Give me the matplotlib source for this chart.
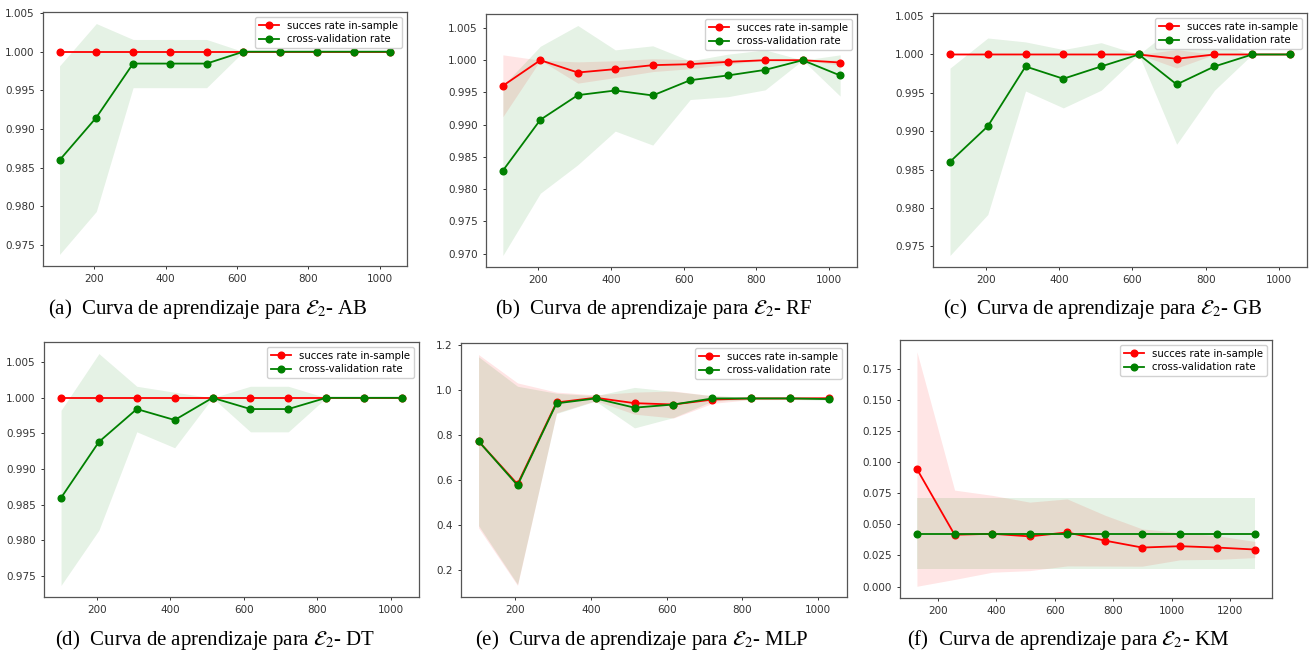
import numpy as np
import matplotlib
matplotlib.use("Agg")
import matplotlib.pyplot as plt

plt.rcParams["mathtext.fontset"] = "stix"

# Training-set sizes used for the learning curves
sizes_e2 = [103, 206, 309, 412, 515, 618, 721, 824, 927, 1030]
sizes_km = [128, 257, 385, 514, 642, 771, 899, 1028, 1156, 1285]

# (a) AdaBoost
ab_train = [1.0, 1.0, 1.0, 1.0, 1.0, 1.0, 1.0, 1.0, 1.0, 1.0]
ab_train_std = [0, 0, 0, 0, 0, 0, 0, 0, 0, 0]
ab_cv = [0.98596, 0.99148, 0.99846, 0.99846, 0.99846, 1.0, 1.0, 1.0, 1.0, 1.0]
ab_cv_std = [0.0122, 0.01216, 0.00312, 0.00312, 0.00312, 0, 0, 0, 0, 0]

# (b) Random Forest
rf_train = [0.99603, 1.0, 0.99809, 0.99861, 0.99923, 0.99938, 0.99974, 1.0, 1.0, 0.99964]
rf_train_std = [0.0048, 0.0, 0.00165, 0.0013, 0.001, 0.0007, 0.0004, 0.0, 0.0, 0.0004]
rf_cv = [0.98287, 0.99076, 0.99458, 0.99530, 0.99453, 0.99690, 0.99763, 0.99850, 1.0, 0.99763]
rf_cv_std = [0.01316, 0.0114, 0.0108, 0.0063, 0.0077, 0.003, 0.0033, 0.0031, 0.0, 0.0032]

# (c) Gradient Boosting
gb_train = [1.0, 1.0, 1.0, 1.0, 1.0, 1.0, 0.99944, 1.0, 1.0, 1.0]
gb_train_std = [0, 0, 0, 0, 0, 0, 0.0012, 0, 0, 0]
gb_cv = [0.98602, 0.99065, 0.99844, 0.99684, 0.99844, 1.0, 0.99610, 0.99844, 1.0, 1.0]
gb_cv_std = [0.0122, 0.0115, 0.0032, 0.0038, 0.0031, 0, 0.0078, 0.0031, 0, 0]

# (d) Decision Tree
dt_train = [1.0, 1.0, 1.0, 1.0, 1.0, 1.0, 1.0, 1.0, 1.0, 1.0]
dt_train_std = [0, 0, 0, 0, 0, 0, 0, 0, 0, 0]
dt_cv = [0.98595, 0.99381, 0.99842, 0.99688, 1.0, 0.99842, 0.99842, 1.0, 1.0, 1.0]
dt_cv_std = [0.0123, 0.0124, 0.0032, 0.0039, 0, 0.0032, 0.0032, 0, 0, 0]

# (e) Multilayer Perceptron
mlp_train = [0.772, 0.581, 0.944, 0.965, 0.941, 0.935, 0.957, 0.962, 0.962, 0.963]
mlp_train_std = [0.385, 0.45, 0.046, 0.013, 0.049, 0.06, 0.017, 0.005, 0.005, 0.005]
mlp_cv = [0.772, 0.576, 0.940, 0.962, 0.921, 0.935, 0.962, 0.962, 0.962, 0.959]
mlp_cv_std = [0.375, 0.44, 0.045, 0.012, 0.09, 0.058, 0.012, 0.005, 0.005, 0.005]

# (f) K-Means
km_train = [0.0947, 0.0417, 0.0425, 0.0404, 0.0436, 0.0370, 0.0314, 0.0325, 0.0314, 0.0298]
km_train_std = [0.0945, 0.036, 0.031, 0.0276, 0.027, 0.0205, 0.015, 0.011, 0.0095, 0.0065]
km_cv = [0.0427, 0.0427, 0.0427, 0.0427, 0.0427, 0.0427, 0.0427, 0.0427, 0.0427, 0.0427]
km_cv_std = [0.0288, 0.0288, 0.0288, 0.0288, 0.0288, 0.0288, 0.0288, 0.0288, 0.0288, 0.0288]

captions = [
    r"(a)  Curva de aprendizaje para $\mathcal{E}_2$- AB",
    r"(b)  Curva de aprendizaje para $\mathcal{E}_2$- RF",
    r"(c)  Curva de aprendizaje para $\mathcal{E}_2$- GB",
    r"(d)  Curva de aprendizaje para $\mathcal{E}_2$- DT",
    r"(e)  Curva de aprendizaje para $\mathcal{E}_2$- MLP",
    r"(f)  Curva de aprendizaje para $\mathcal{E}_2$- KM",
]

W, H = 1311, 654
fig = plt.figure(figsize=(W / 100, H / 100), dpi=100)

# panel boxes in pixels: left, right, top, bottom ; caption centre x, y
boxes = [
    (43, 407, 12, 266, 208, 309),
    (486, 857, 14, 267, 654, 309),
    (933, 1307, 13, 267, 1103, 309),
    (44, 419, 342, 597, 215, 640),
    (461, 847, 343, 597, 642, 640),
    (900, 1272, 340, 598, 1068, 640),
]

panels = [
    (sizes_e2, ab_train, ab_train_std, ab_cv, ab_cv_std),
    (sizes_e2, rf_train, rf_train_std, rf_cv, rf_cv_std),
    (sizes_e2, gb_train, gb_train_std, gb_cv, gb_cv_std),
    (sizes_e2, dt_train, dt_train_std, dt_cv, dt_cv_std),
    (sizes_e2, mlp_train, mlp_train_std, mlp_cv, mlp_cv_std),
    (sizes_km, km_train, km_train_std, km_cv, km_cv_std),
]

for (l, r, t, b, cx, cy), (x, tr, trs, cv, cvs), cap in zip(boxes, panels, captions):
    ax = fig.add_axes([l / W, 1 - b / H, (r - l) / W, (b - t) / H])
    x = np.array(x)
    tr, trs, cv, cvs = map(np.array, (tr, trs, cv, cvs))
    ax.fill_between(x, tr - trs, tr + trs, alpha=0.1, color="r", linewidth=0)
    ax.fill_between(x, cv - cvs, cv + cvs, alpha=0.1, color="g", linewidth=0)
    ax.plot(x, tr, "o-", color="r", lw=1.3, ms=4.8, label="succes rate in-sample")
    ax.plot(x, cv, "o-", color="g", lw=1.3, ms=4.8, label="cross-validation rate")
    ax.tick_params(labelsize=7.5, length=2.5, width=0.7, colors="#333333")
    for s in ax.spines.values():
        s.set_linewidth(0.9)
        s.set_color("#555555")
    ax.legend(loc="upper right", fontsize=7.3, handlelength=2.0,
              borderpad=0.35, labelspacing=0.35, framealpha=0.9)
    fig.text(cx / W, 1 - cy / H, cap, ha="center", va="center",
             fontsize=15, family="Liberation Serif")

fig.savefig("out.png", dpi=100)
